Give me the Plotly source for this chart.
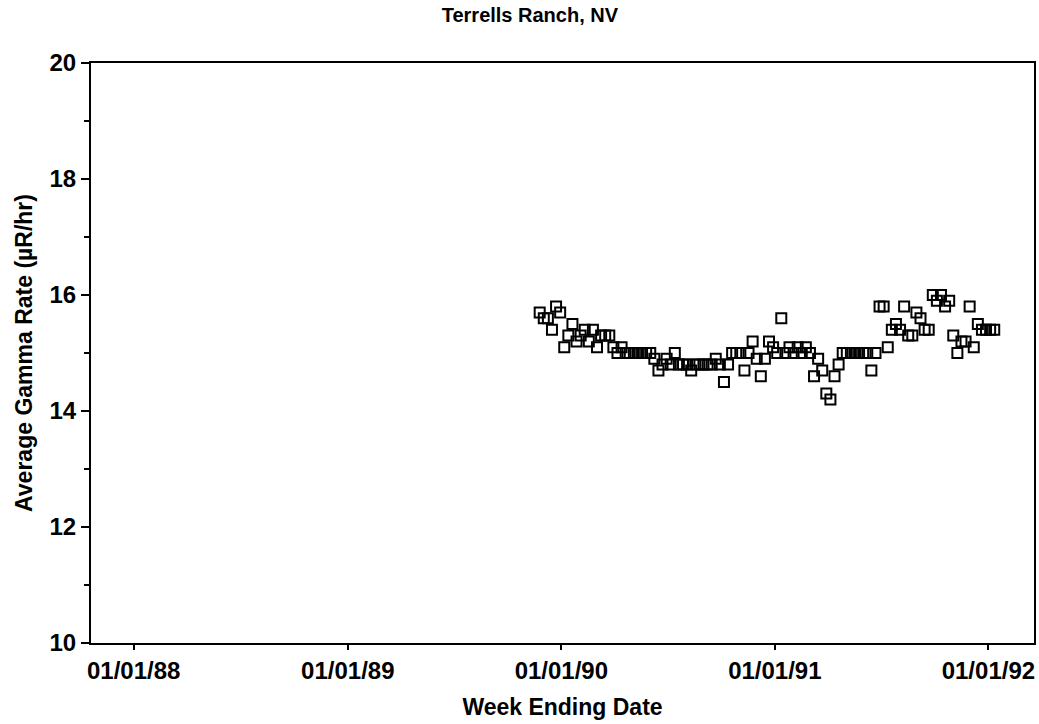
import pandas as pd
import plotly.graph_objects as go

# Weekly average gamma exposure rate at Terrells Ranch, NV (µR/hr)
first_week = "1989-11-25"
gamma_rate = [
    15.7, 15.6, 15.6, 15.4, 15.8, 15.7, 15.1, 15.3, 15.5, 15.2,
    15.3, 15.4, 15.2, 15.4, 15.1, 15.3, 15.3, 15.3, 15.1, 15.0,
    15.1, 15.0, 15.0, 15.0, 15.0, 15.0, 15.0, 15.0, 14.9, 14.7,
    14.8, 14.9, 14.8, 15.0, 14.8, 14.8, 14.8, 14.7, 14.8, 14.8,
    14.8, 14.8, 14.8, 14.9, 14.8, 14.5, 14.8, 15.0, 15.0, 15.0,
    14.7, 15.0, 15.2, 14.9, 14.6, 14.9, 15.2, 15.1, 15.0, 15.6,
    15.0, 15.1, 15.0, 15.1, 15.0, 15.1, 15.0, 14.6, 14.9, 14.7,
    14.3, 14.2, 14.6, 14.8, 15.0, 15.0, 15.0, 15.0, 15.0, 15.0,
    15.0, 14.7, 15.0, 15.8, 15.8, 15.1, 15.4, 15.5, 15.4, 15.8,
    15.3, 15.3, 15.7, 15.6, 15.4, 15.4, 16.0, 15.9, 16.0, 15.8,
    15.9, 15.3, 15.0, 15.2, 15.2, 15.8, 15.1, 15.5, 15.4, 15.4,
    15.4, 15.4,
]
week_ending = pd.date_range(first_week, periods=len(gamma_rate), freq="7D")

x_tick_dates = ["1988-01-01", "1989-01-01", "1990-01-01", "1991-01-01", "1992-01-01"]
x_tick_labels = ["01/01/88", "01/01/89", "01/01/90", "01/01/91", "01/01/92"]
y_tick_values = [10, 12, 14, 16, 18, 20]

FONT = "Liberation Sans, Arial, Helvetica, sans-serif"

fig = go.Figure(
    go.Scatter(
        x=week_ending,
        y=gamma_rate,
        mode="markers",
        marker=dict(symbol="square-open", size=10, color="black",
                    line=dict(width=2, color="black")),
        showlegend=False,
    )
)

fig.update_layout(
    width=1039,
    height=724,
    margin=dict(l=91, r=3, t=63, b=81),
    paper_bgcolor="white",
    plot_bgcolor="white",
    font=dict(family=FONT, color="black", size=23, weight="bold"),
    title=dict(
        text="Terrells Ranch, NV",
        x=0.51, xref="container", xanchor="center",
        y=0.979, yref="container", yanchor="middle",
        font=dict(family=FONT, size=20, weight="bold", color="black"),
    ),
)

fig.update_xaxes(
    type="date",
    range=["1987-10-20", "1992-03-19"],
    tickmode="array",
    tickvals=x_tick_dates,
    ticktext=x_tick_labels,
    ticks="outside",
    ticklen=5,
    tickwidth=2,
    tickcolor="black",
    tickfont=dict(family=FONT, size=24, weight="bold"),
    showline=True,
    linecolor="black",
    linewidth=2,
    mirror=True,
    showgrid=False,
    zeroline=False,
    title=dict(text="Week Ending Date", standoff=16,
               font=dict(family=FONT, size=23, weight="bold")),
)

fig.update_yaxes(
    range=[10, 20],
    tickmode="array",
    tickvals=y_tick_values,
    ticks="outside",
    ticklen=8,
    tickwidth=2,
    tickcolor="black",
    tickfont=dict(family=FONT, size=24, weight="bold"),
    minor=dict(dtick=1, ticks="outside", ticklen=5, tickwidth=1.5, tickcolor="black"),
    showline=True,
    linecolor="black",
    linewidth=2,
    mirror=True,
    showgrid=False,
    zeroline=False,
    title=dict(text="Average Gamma Rate (µR/hr)", standoff=10,
               font=dict(family=FONT, size=23, weight="bold")),
)

fig.write_html("out.html")
